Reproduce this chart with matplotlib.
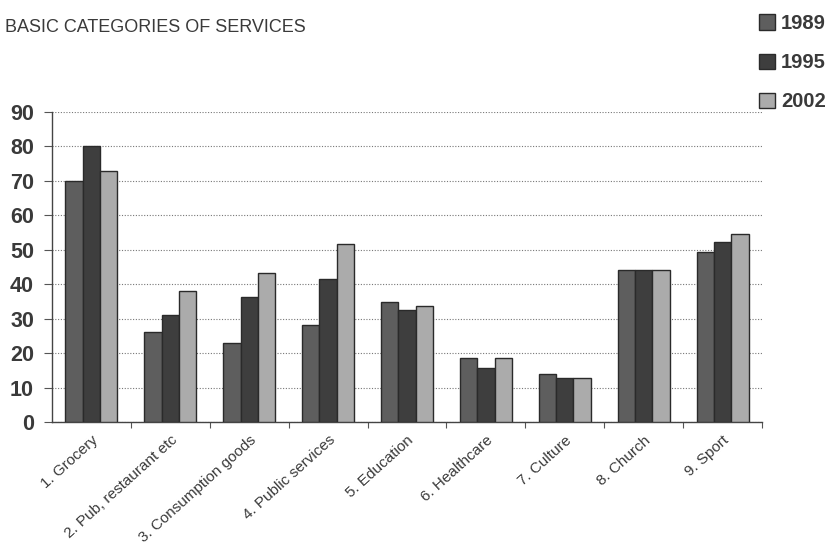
import numpy as np
import matplotlib.pyplot as plt
from matplotlib.patches import Patch

categories = ['1. Grocery', '2. Pub, restaurant etc', '3. Consumption goods',
              '4. Public services', '5. Education', '6. Healthcare',
              '7. Culture', '8. Church', '9. Sport']
years = ['1989', '1995', '2002']
v1989 = [70, 26, 23, 28.3, 34.7, 18.7, 13.8, 44, 49.3]
v1995 = [80, 31, 36.3, 41.5, 32.4, 15.8, 12.9, 44, 52.4]
v2002 = [73, 38, 43.4, 51.7, 33.6, 18.7, 12.9, 44, 54.5]
colors = ['#5e5e5e', '#3e3e3e', '#ababab']

plt.rcParams['font.family'] = ['Liberation Sans', 'DejaVu Sans']

fig = plt.figure(figsize=(8.3, 5.48), dpi=100)
ax = fig.add_axes([52 / 830, 1 - 422 / 548, 710 / 830, 310 / 548])

x = np.arange(len(categories))
w = 0.22
for i, (vals, c) in enumerate(zip([v1989, v1995, v2002], colors)):
    ax.bar(x + (i - 1) * w, vals, w, color=c, edgecolor='#2a2a2a', linewidth=1.0, zorder=3)

ax.set_xlim(-0.5, len(categories) - 0.5)
ax.set_ylim(0, 90)
ax.set_yticks(range(0, 91, 10))
ax.tick_params(axis='y', labelsize=15.5, length=6, pad=7, color='#555555', labelcolor='#3a3a3a')
for t in ax.get_yticklabels():
    t.set_fontweight('bold')
ax.yaxis.grid(True, linestyle=(0, (1, 1.5)), color='#777777', linewidth=0.8, zorder=0)

# category boundaries get the tick marks, names sit under the groups
ax.set_xticks(x + 0.5, minor=False)
ax.set_xticklabels([])
ax.set_xticks(x, minor=True)
ax.set_xticklabels(categories, minor=True, rotation=42, ha='right',
                   rotation_mode='anchor', fontsize=11, color='#3a3a3a')
ax.tick_params(axis='x', which='minor', length=0, pad=8)
ax.tick_params(axis='x', which='major', length=4, color='#555555')

for s in ['top', 'right']:
    ax.spines[s].set_visible(False)
for s in ['left', 'bottom']:
    ax.spines[s].set_color('#444444')
    ax.spines[s].set_linewidth(1.0)

fig.text(5 / 830, 1 - 28 / 548, 'BASIC CATEGORIES OF SERVICES', fontsize=13,
         color='#3a3a3a', va='center')

handles = [Patch(facecolor=c, edgecolor='#2a2a2a') for c in colors]
leg = fig.legend(handles, years, loc='upper right', bbox_to_anchor=(1.012, 1.0),
                 frameon=False, fontsize=14.5, handlelength=0.8, handleheight=0.8,
                 handletextpad=0.3, labelspacing=1.0, borderaxespad=0.3,
                 labelcolor='#3a3a3a')
for t in leg.get_texts():
    t.set_fontweight('bold')

fig.savefig('out.png', dpi=100)
